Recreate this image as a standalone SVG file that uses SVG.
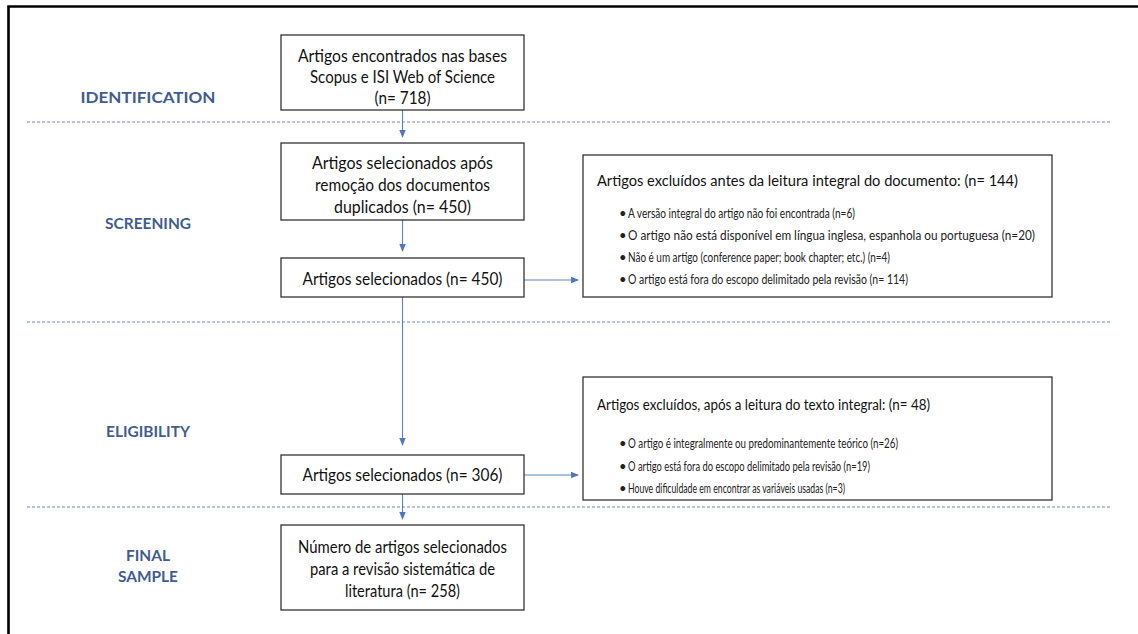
<svg xmlns="http://www.w3.org/2000/svg" width="1138" height="634" viewBox="0 0 1138 634">
  <style>
    text { font-family: Lato, "Liberation Sans", sans-serif; }
    .stage { font-weight: 700; font-size: 15px; fill: #3f5d8f; text-anchor: middle; }
    .box { fill: #ffffff; stroke: #333333; stroke-width: 1.3; }
    .t { font-size: 17px; fill: #111111; text-anchor: middle; }
    .hdr { font-size: 15.5px; fill: #111111; }
    .li { font-size: 13px; fill: #222222; }
    .sep { stroke: #6f8cc0; stroke-width: 1.2; stroke-dasharray: 3 2; fill: none; }
    .conn { stroke: #5b82c0; stroke-width: 1.1; fill: none; marker-end: url(#arrow); }
  </style>
  <defs>
    <marker id="arrow" viewBox="0 0 8 8" refX="7" refY="4" markerWidth="8" markerHeight="8" markerUnits="userSpaceOnUse" orient="auto">
      <path d="M0,0.8 L8,4 L0,7.2 Z" fill="#4f78bb"/>
    </marker>
  </defs>

  <rect width="1138" height="634" fill="#ffffff"/>
  <!-- page frame -->
  <path d="M8.5,634 V6.5 H1138" fill="none" stroke="#000000" stroke-width="2.6"/>

  <!-- stage separators -->
  <g id="separators">
    <line class="sep" x1="27" y1="122" x2="1112" y2="122"/>
    <line class="sep" x1="27" y1="322" x2="1112" y2="322"/>
    <line class="sep" x1="27" y1="507" x2="1112" y2="507"/>
  </g>

  <!-- stage labels -->
  <g id="stage-labels">
    <text class="stage" x="148" y="103" textLength="135" lengthAdjust="spacingAndGlyphs">IDENTIFICATION</text>
    <text class="stage" x="148" y="229" textLength="86" lengthAdjust="spacingAndGlyphs">SCREENING</text>
    <text class="stage" x="148" y="437" textLength="84" lengthAdjust="spacingAndGlyphs">ELIGIBILITY</text>
    <text class="stage" x="148" y="561" textLength="44" lengthAdjust="spacingAndGlyphs">FINAL</text>
    <text class="stage" x="148" y="582" textLength="60" lengthAdjust="spacingAndGlyphs">SAMPLE</text>
  </g>

  <g id="connectors">
    <line class="conn" x1="402.5" y1="110" x2="402.5" y2="137"/>
    <line class="conn" x1="402.5" y1="220" x2="402.5" y2="251"/>
    <line class="conn" x1="402.5" y1="297" x2="402.5" y2="445"/>
    <line class="conn" x1="402.5" y1="494" x2="402.5" y2="519"/>
    <line class="conn" x1="524" y1="280" x2="578" y2="280"/>
    <line class="conn" x1="524" y1="475" x2="578" y2="475"/>
  </g>

  <g id="identification">
    <rect class="box" x="281" y="35" width="243" height="75"/>
    <text class="t" x="402.5" y="62" textLength="209" lengthAdjust="spacingAndGlyphs">Artigos encontrados nas bases</text>
    <text class="t" x="402.5" y="83" textLength="185" lengthAdjust="spacingAndGlyphs">Scopus e ISI Web of Science</text>
    <text class="t" x="402.5" y="104" textLength="56" lengthAdjust="spacingAndGlyphs">(n= 718)</text>
  </g>

  <g id="deduplicated">
    <rect class="box" x="281" y="143" width="243" height="77"/>
    <text class="t" x="402.5" y="169" textLength="181" lengthAdjust="spacingAndGlyphs">Artigos selecionados após</text>
    <text class="t" x="402.5" y="191" textLength="175" lengthAdjust="spacingAndGlyphs">remoção dos documentos</text>
    <text class="t" x="402.5" y="213" textLength="137" lengthAdjust="spacingAndGlyphs">duplicados (n= 450)</text>
  </g>

  <g id="screened">
    <rect class="box" x="281" y="258" width="243" height="39"/>
    <text class="t" x="402.5" y="285" textLength="200" lengthAdjust="spacingAndGlyphs">Artigos selecionados (n= 450)</text>
  </g>

  <g id="excluded-screening">
    <rect class="box" x="583" y="155" width="469" height="142"/>
    <text class="hdr" x="597" y="186" textLength="421" lengthAdjust="spacingAndGlyphs">Artigos excluídos antes da leitura integral do documento: (n= 144)</text>
    <text class="li" x="619" y="218">•</text>
    <text class="li" x="628" y="218" textLength="227" lengthAdjust="spacingAndGlyphs">A versão integral do artigo não foi encontrada (n=6)</text>
    <text class="li" x="619" y="240">•</text>
    <text class="li" x="628" y="240" textLength="407" lengthAdjust="spacingAndGlyphs">O artigo não está disponível em língua inglesa, espanhola ou portuguesa (n=20)</text>
    <text class="li" x="619" y="262">•</text>
    <text class="li" x="628" y="262" textLength="262" lengthAdjust="spacingAndGlyphs">Não é um artigo (conference paper; book chapter; etc.) (n=4)</text>
    <text class="li" x="619" y="284">•</text>
    <text class="li" x="628" y="284" textLength="280" lengthAdjust="spacingAndGlyphs">O artigo está fora do escopo delimitado pela revisão (n= 114)</text>
  </g>

  <g id="eligible">
    <rect class="box" x="281" y="455" width="243" height="39"/>
    <text class="t" x="402.5" y="481" textLength="200" lengthAdjust="spacingAndGlyphs">Artigos selecionados (n= 306)</text>
  </g>

  <g id="excluded-eligibility">
    <rect class="box" x="583" y="377" width="469" height="123"/>
    <text class="hdr" x="597" y="410" textLength="333" lengthAdjust="spacingAndGlyphs">Artigos excluídos, após a leitura do texto integral: (n= 48)</text>
    <text class="li" x="619" y="448">•</text>
    <text class="li" x="628" y="448" textLength="270" lengthAdjust="spacingAndGlyphs">O artigo é integralmente ou predominantemente teórico (n=26)</text>
    <text class="li" x="619" y="471">•</text>
    <text class="li" x="628" y="471" textLength="242" lengthAdjust="spacingAndGlyphs">O artigo está fora do escopo delimitado pela revisão (n=19)</text>
    <text class="li" x="619" y="493">•</text>
    <text class="li" x="628" y="493" textLength="217" lengthAdjust="spacingAndGlyphs">Houve dificuldade em encontrar as variáveis usadas (n=3)</text>
  </g>

  <g id="final-sample">
    <rect class="box" x="281" y="525" width="243" height="85"/>
    <text class="t" x="402.5" y="553" textLength="209" lengthAdjust="spacingAndGlyphs">Número de artigos selecionados</text>
    <text class="t" x="402.5" y="575" textLength="185" lengthAdjust="spacingAndGlyphs">para a revisão sistemática de</text>
    <text class="t" x="402.5" y="597" textLength="115" lengthAdjust="spacingAndGlyphs">literatura (n= 258)</text>
  </g>
</svg>
